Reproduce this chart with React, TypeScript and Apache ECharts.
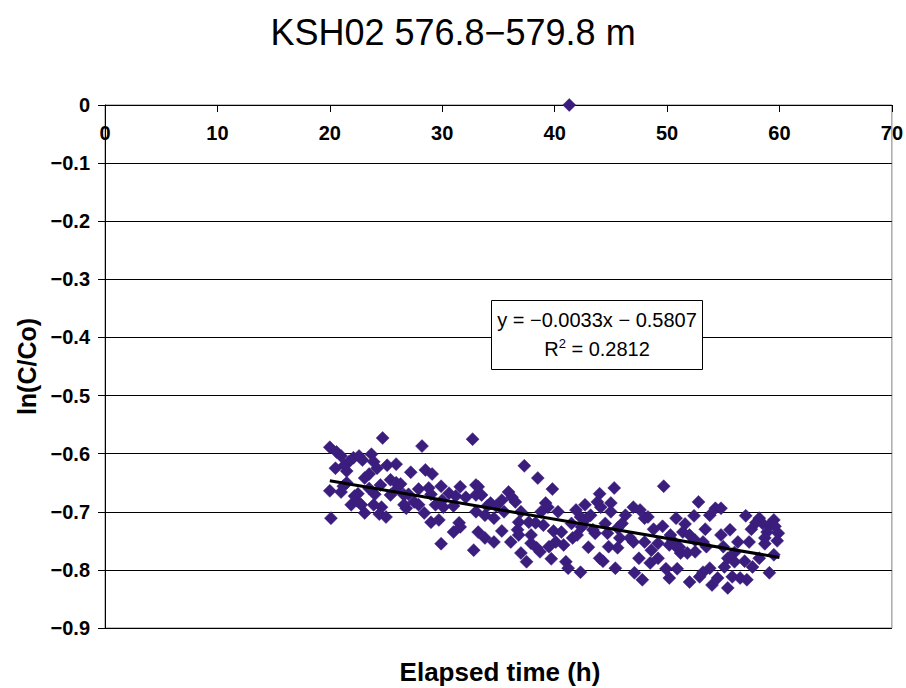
import React, { useEffect, useRef } from "react";
import * as echarts from "echarts";

const titleText = "KSH02 576.8\u2212579.8 m";
const xAxisTitle = "Elapsed time (h)";
const yAxisTitle = "ln(C/Co)";
const eqLine1 = "y = \u22120.0033x \u2212 0.5807";
const eqR2 = "0.2812";
const slope = -0.0033;
const intercept = -0.5807;
const fitRange = [20, 60];

const pts20to25: number[][] = [
  [20.0, -0.589], [20.6, -0.597], [21.0, -0.604], [21.7, -0.614], [20.1, -0.711],
  [20.5, -0.625], [21.3, -0.62], [21.5, -0.63], [20.0, -0.664], [21.0, -0.666],
  [21.2, -0.656], [22.1, -0.607], [22.6, -0.604], [22.9, -0.611], [23.7, -0.601],
  [23.9, -0.614], [24.2, -0.625], [23.1, -0.642], [23.5, -0.635], [24.5, -0.654],
  [22.5, -0.669], [21.9, -0.688], [22.8, -0.688], [23.1, -0.702], [23.9, -0.688],
  [24.6, -0.692], [24.4, -0.704], [25.0, -0.709], [24.7, -0.573], [22.4, -0.681],
  [22.2, -0.673], [21.5, -0.65], [24.0, -0.67], [23.5, -0.66],
];
const pts25to33: number[][] = [
  [25.1, -0.62], [25.9, -0.618], [25.4, -0.645], [25.9, -0.65], [25.4, -0.671],
  [27.2, -0.632], [28.5, -0.628], [29.1, -0.635], [26.3, -0.652], [27.9, -0.661],
  [28.8, -0.659], [29.9, -0.656], [31.6, -0.657], [30.6, -0.668], [31.2, -0.673],
  [32.1, -0.675], [33.0, -0.654], [26.6, -0.671], [27.5, -0.683], [27.9, -0.688],
  [26.8, -0.694], [29.4, -0.688], [30.1, -0.692], [28.4, -0.702], [29.0, -0.718],
  [29.7, -0.714], [31.5, -0.719], [31.6, -0.726], [31.0, -0.735], [29.9, -0.755],
  [32.8, -0.766], [28.2, -0.587], [32.7, -0.575], [26.6, -0.688], [33.0, -0.671],
  [31.0, -0.69], [30.0, -0.68], [29.0, -0.67], [27.0, -0.67], [26.0, -0.66],
];
const pts33to40: number[][] = [
  [37.3, -0.621], [38.5, -0.642], [39.8, -0.661], [33.5, -0.671], [33.2, -0.657],
  [35.9, -0.666], [36.2, -0.675], [36.5, -0.683], [35.3, -0.68], [34.3, -0.685],
  [39.2, -0.685], [39.4, -0.692], [33.8, -0.706], [34.6, -0.711], [35.3, -0.733],
  [36.8, -0.718], [37.7, -0.718], [38.3, -0.719], [39.0, -0.723], [39.9, -0.733],
  [36.7, -0.731], [33.2, -0.735], [33.8, -0.745], [34.6, -0.752], [36.1, -0.752],
  [37.9, -0.74], [37.9, -0.754], [38.4, -0.762], [38.7, -0.769], [37.0, -0.771],
  [37.5, -0.786], [39.7, -0.781], [40.1, -0.752], [38.8, -0.7], [37.0, -0.7],
  [35.5, -0.7], [34.0, -0.69], [33.0, -0.7], [34.8, -0.69], [36.8, -0.74], [39.5, -0.76],
];
const pts40to47: number[][] = [
  [45.3, -0.659], [44.0, -0.669], [45.0, -0.685], [43.8, -0.683], [44.1, -0.692],
  [42.7, -0.688], [41.9, -0.697], [43.2, -0.706], [42.8, -0.712], [42.3, -0.709],
  [47.0, -0.692], [46.3, -0.706], [47.6, -0.697], [40.6, -0.735], [41.6, -0.745],
  [42.4, -0.726], [43.4, -0.731], [43.6, -0.737], [44.7, -0.737], [45.6, -0.728],
  [45.8, -0.745], [46.7, -0.745], [47.0, -0.752], [45.6, -0.762], [43.0, -0.761],
  [40.8, -0.757], [41.0, -0.786], [41.2, -0.797], [42.3, -0.804], [44.0, -0.78],
  [44.3, -0.785], [45.4, -0.797], [47.1, -0.805], [45.0, -0.7], [44.5, -0.72],
  [46.0, -0.72], [40.3, -0.7], [41.5, -0.72], [42.0, -0.74], [44.8, -0.76], [47.5, -0.78],
];
const pts47to54: number[][] = [
  [49.7, -0.656], [52.8, -0.683], [54.3, -0.694], [48.0, -0.711], [48.3, -0.709],
  [50.8, -0.711], [52.4, -0.707], [53.8, -0.706], [49.6, -0.725], [51.6, -0.721],
  [51.4, -0.735], [53.4, -0.73], [48.0, -0.752], [49.2, -0.754], [50.3, -0.74],
  [50.2, -0.757], [51.1, -0.761], [52.5, -0.749], [53.2, -0.752], [48.6, -0.766],
  [51.2, -0.771], [51.8, -0.771], [52.5, -0.769], [48.5, -0.788], [49.9, -0.798],
  [50.9, -0.798], [53.2, -0.804], [53.8, -0.797], [47.8, -0.817], [50.2, -0.814],
  [52.0, -0.821], [54.0, -0.826], [52.9, -0.812], [48.8, -0.73], [50.5, -0.75],
  [52.0, -0.74], [53.5, -0.76], [49.2, -0.78], [50.8, -0.76],
];
const pts54to60: number[][] = [
  [54.8, -0.694], [57.0, -0.707], [58.2, -0.711], [59.5, -0.714], [57.9, -0.719],
  [59.1, -0.723], [59.9, -0.737], [58.9, -0.735], [55.6, -0.731], [54.8, -0.74],
  [58.7, -0.745], [56.3, -0.752], [57.3, -0.752], [58.7, -0.755], [58.2, -0.78],
  [59.5, -0.774], [55.4, -0.78], [55.1, -0.795], [56.0, -0.786], [56.9, -0.785],
  [57.6, -0.795], [59.1, -0.805], [55.8, -0.812], [56.5, -0.814], [57.1, -0.817],
  [54.5, -0.814], [55.4, -0.831], [55.0, -0.76], [56.0, -0.77], [57.5, -0.73],
  [58.5, -0.72], [59.6, -0.725], [59.8, -0.75],
];
const outlierPts: number[][] = [[41.3, 0]];

const xTicks = { min: 0, max: 70, interval: 10 };
const yTicks = { min: -0.9, max: 0, interval: 0.1 };

const FONT = "'Liberation Sans', Arial, sans-serif";

export default function App() {
  const ref = useRef<HTMLDivElement>(null);
  useEffect(() => {
    if (!ref.current) return;
    const chart = echarts.init(ref.current, null, { renderer: "svg" });
    const allPts = [
      ...pts20to25, ...pts25to33, ...pts33to40, ...pts40to47, ...pts47to54, ...pts54to60, ...outlierPts,
    ];
    const fitLine = fitRange.map((x) => [x, slope * x + intercept]);
    const minus = (v: number) => {
      const s = String(Math.round(v * 10) / 10);
      return s.replace("-", "\u2212");
    };
    chart.setOption({
      animation: false,
      backgroundColor: "#ffffff",
      title: {
        text: titleText,
        left: "center",
        top: 9,
        textStyle: { fontFamily: FONT, fontSize: 36, fontWeight: "normal", color: "#000" },
      },
      grid: {
        left: 105, right: 11, top: 105, bottom: 60,
        show: true, borderColor: "#808080", borderWidth: 1, containLabel: false,
      },
      xAxis: {
        type: "value",
        position: "top",
        min: xTicks.min, max: xTicks.max, interval: xTicks.interval,
        axisLine: { show: true, onZero: false, lineStyle: { color: "#000", width: 1 } },
        axisTick: { show: true, inside: true, length: 7, lineStyle: { color: "#000" } },
        axisLabel: {
          inside: true, margin: 18,
          fontFamily: FONT, fontSize: 20, fontWeight: "bold", color: "#000",
        },
        splitLine: { show: false },
      },
      yAxis: {
        type: "value",
        min: yTicks.min, max: yTicks.max, interval: yTicks.interval,
        name: yAxisTitle,
        nameLocation: "middle",
        nameRotate: 90,
        nameGap: 65,
        nameTextStyle: { fontFamily: FONT, fontSize: 25, fontWeight: "bold", color: "#000" },
        axisLine: { show: true, onZero: false, lineStyle: { color: "#000", width: 1 } },
        axisTick: { show: true, length: 7, lineStyle: { color: "#000" } },
        axisLabel: {
          margin: 15, formatter: minus,
          fontFamily: FONT, fontSize: 20, fontWeight: "bold", color: "#000",
        },
        splitLine: { show: true, lineStyle: { color: "#000", width: 1 } },
      },
      graphic: [
        {
          type: "text",
          x: 500, y: 672,
          style: {
            text: xAxisTitle, font: `bold 26px ${FONT}`, fill: "#000",
            align: "center", verticalAlign: "middle",
          },
        },
        {
          type: "rect",
          shape: { x: 491.5, y: 300.5, width: 211, height: 69 },
          style: { fill: "#fff", stroke: "#000", lineWidth: 1 },
          z: 10,
        },
        {
          type: "text",
          x: 597, y: 320,
          style: {
            text: eqLine1, font: `20px ${FONT}`, fill: "#000",
            align: "center", verticalAlign: "middle",
          },
          z: 11,
        },
        {
          type: "text",
          x: 597, y: 348,
          style: {
            text: "{a|R}{s|2}{a| = " + eqR2 + "}",
            align: "center", verticalAlign: "middle",
            rich: {
              a: { fontFamily: FONT, fontSize: 20, color: "#000", verticalAlign: "bottom" },
              s: { fontFamily: FONT, fontSize: 13, color: "#000", verticalAlign: "top", padding: [0, 0, 9, 0] },
            },
          },
          z: 11,
        },
      ],
      series: [
        {
          type: "scatter",
          data: allPts,
          symbol: "diamond",
          symbolSize: 13,
          itemStyle: { color: "#3a1d7d", borderColor: "#3a1d7d", borderWidth: 0.5, opacity: 1 },
          clip: false,
          z: 2,
        },
        {
          type: "line",
          data: fitLine,
          showSymbol: false,
          symbol: "none",
          lineStyle: { color: "#000", width: 3 },
          z: 3,
        },
      ],
    });
    return () => chart.dispose();
  }, []);
  return <div ref={ref} style={{ width: 906, height: 688, position: "absolute", left: 0, top: 0 }} />;
}
